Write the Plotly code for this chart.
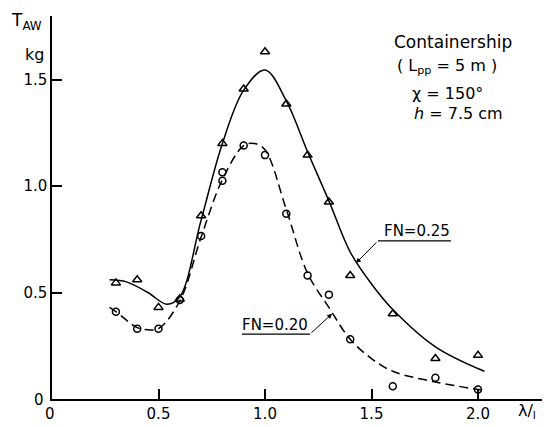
import plotly.graph_objects as go

# measured points
tri_x = [0.3, 0.4, 0.5, 0.6, 0.7, 0.8, 0.9, 1.0, 1.1, 1.2, 1.3, 1.4, 1.6, 1.8, 2.0]
tri_y = [0.545, 0.56, 0.43, 0.47, 0.86, 1.20, 1.455, 1.63, 1.385, 1.145, 0.925, 0.58, 0.40, 0.19, 0.205]
cir_x = [0.3, 0.4, 0.5, 0.6, 0.7, 0.8, 0.8, 0.9, 1.0, 1.1, 1.2, 1.3, 1.4, 1.6, 1.8, 2.0]
cir_y = [0.41, 0.33, 0.33, 0.465, 0.765, 1.065, 1.025, 1.19, 1.145, 0.87, 0.58, 0.49, 0.28, 0.06, 0.10, 0.045]

# faired curves
fn25_x = [0.27, 0.35, 0.45, 0.54, 0.60, 0.70, 0.80, 0.90, 1.00, 1.10, 1.20, 1.30, 1.40, 1.50, 1.60, 1.80, 2.03]
fn25_y = [0.56, 0.55, 0.50, 0.445, 0.48, 0.84, 1.20, 1.45, 1.545, 1.40, 1.16, 0.93, 0.69, 0.54, 0.42, 0.245, 0.13]
fn20_x = [0.27, 0.30, 0.40, 0.45, 0.50, 0.60, 0.70, 0.80, 0.90, 0.95, 1.00, 1.10, 1.20, 1.30, 1.40, 1.50, 1.60, 1.80, 2.03]
fn20_y = [0.43, 0.41, 0.335, 0.325, 0.33, 0.46, 0.76, 1.03, 1.19, 1.20, 1.17, 0.89, 0.59, 0.43, 0.28, 0.19, 0.13, 0.08, 0.04]

x_ticks = [0.5, 1.0, 1.5, 2.0]
x_tick_text = ["0.5", "1.0", "1.5", "2.0"]
y_ticks = [0.5, 1.0, 1.5]
y_tick_text = ["0.5", "1.0", "1.5"]

FONT = "DejaVu Sans"
FS = 15
fig = go.Figure()
fig.add_trace(go.Scatter(x=fn25_x, y=fn25_y, mode="lines", line=dict(color="black", width=1.5, shape="spline", smoothing=1.0), hoverinfo="skip"))
fig.add_trace(go.Scatter(x=fn20_x, y=fn20_y, mode="lines", line=dict(color="black", width=1.5, dash="9px,5px", shape="spline", smoothing=1.0), hoverinfo="skip"))
fig.add_trace(go.Scatter(x=tri_x, y=tri_y, mode="markers", marker=dict(symbol="triangle-up-open", size=8, color="black", line=dict(width=1.5))))
fig.add_trace(go.Scatter(x=cir_x, y=cir_y, mode="markers", marker=dict(symbol="circle-open", size=7, color="black", line=dict(width=1.5))))

L, R, T, B = 52, 2, 16, 28
W, H = 544, 427
pw, ph = W - L - R, H - T - B
xr = [0, pw / 213.0]
yr = [0, ph / 213.0]

def px(xp):
    return (xp - L) / pw
def py(yp):
    return (H - B - yp) / ph

fig.update_layout(
    width=W, height=H, margin=dict(l=L, r=R, t=T, b=B),
    paper_bgcolor="white", plot_bgcolor="white", showlegend=False,
    font=dict(family=FONT, size=FS, color="black"),
    xaxis=dict(range=xr, showgrid=False, zeroline=False, showline=True, linecolor="black", linewidth=1.5,
               ticks="inside", ticklen=10, tickwidth=1.5, tickcolor="black",
               tickvals=x_ticks, ticktext=x_tick_text, tickfont=dict(size=FS, family=FONT)),
    yaxis=dict(range=yr, showgrid=False, zeroline=False, showline=True, linecolor="black", linewidth=1.5,
               ticks="inside", ticklen=10, tickwidth=1.5, tickcolor="black",
               tickvals=y_ticks, ticktext=y_tick_text, tickfont=dict(size=FS, family=FONT)),
)

anns = [
    dict(text="T<sub>AW</sub>", x=px(26), y=py(22), size=17),
    dict(text="kg", x=px(34), y=py(54), size=16),
    dict(text="0", x=px(39), y=py(400), size=FS),
    dict(text="0", x=px(50), y=py(414), size=FS),
    dict(text="λ/<sub>l</sub>", x=px(527), y=py(411), size=16),
    dict(text="Containership", x=px(453), y=py(42), size=17),
    dict(text="( L<sub>pp</sub> = 5 m )", x=px(447), y=py(66), size=16),
    dict(text="χ = 150°", x=px(447), y=py(93), size=16),
    dict(text="<i>h</i> = 7.5 cm", x=px(458), y=py(113), size=16),
]
for a in anns:
    s = a.pop("size")
    fig.add_annotation(xref="paper", yref="paper", showarrow=False, xanchor="center", yanchor="middle",
                       font=dict(size=s, family=FONT, color="black"), **a)

# FN labels with leaders
fig.add_annotation(x=1.714, y=0.789, text="FN=0.25", showarrow=False, font=dict(size=FS, family=FONT))
fig.add_shape(type="line", x0=1.53, x1=1.873, y0=0.742, y1=0.742, line=dict(color="black", width=1.2))
fig.add_annotation(x=1.427, y=0.638, ax=1.53, ay=0.742, axref="x", ayref="y", text="", showarrow=True,
                   arrowhead=2, arrowsize=1, arrowwidth=1, arrowcolor="black")
fig.add_annotation(x=1.047, y=0.347, text="FN=0.20", showarrow=False, font=dict(size=FS, family=FONT))
fig.add_shape(type="line", x0=0.892, x1=1.211, y0=0.305, y1=0.305, line=dict(color="black", width=1.2))
fig.add_annotation(x=1.315, y=0.40, ax=1.211, ay=0.305, axref="x", ayref="y", text="", showarrow=True,
                   arrowhead=2, arrowsize=1, arrowwidth=1, arrowcolor="black")

fig.write_html("out.html")
